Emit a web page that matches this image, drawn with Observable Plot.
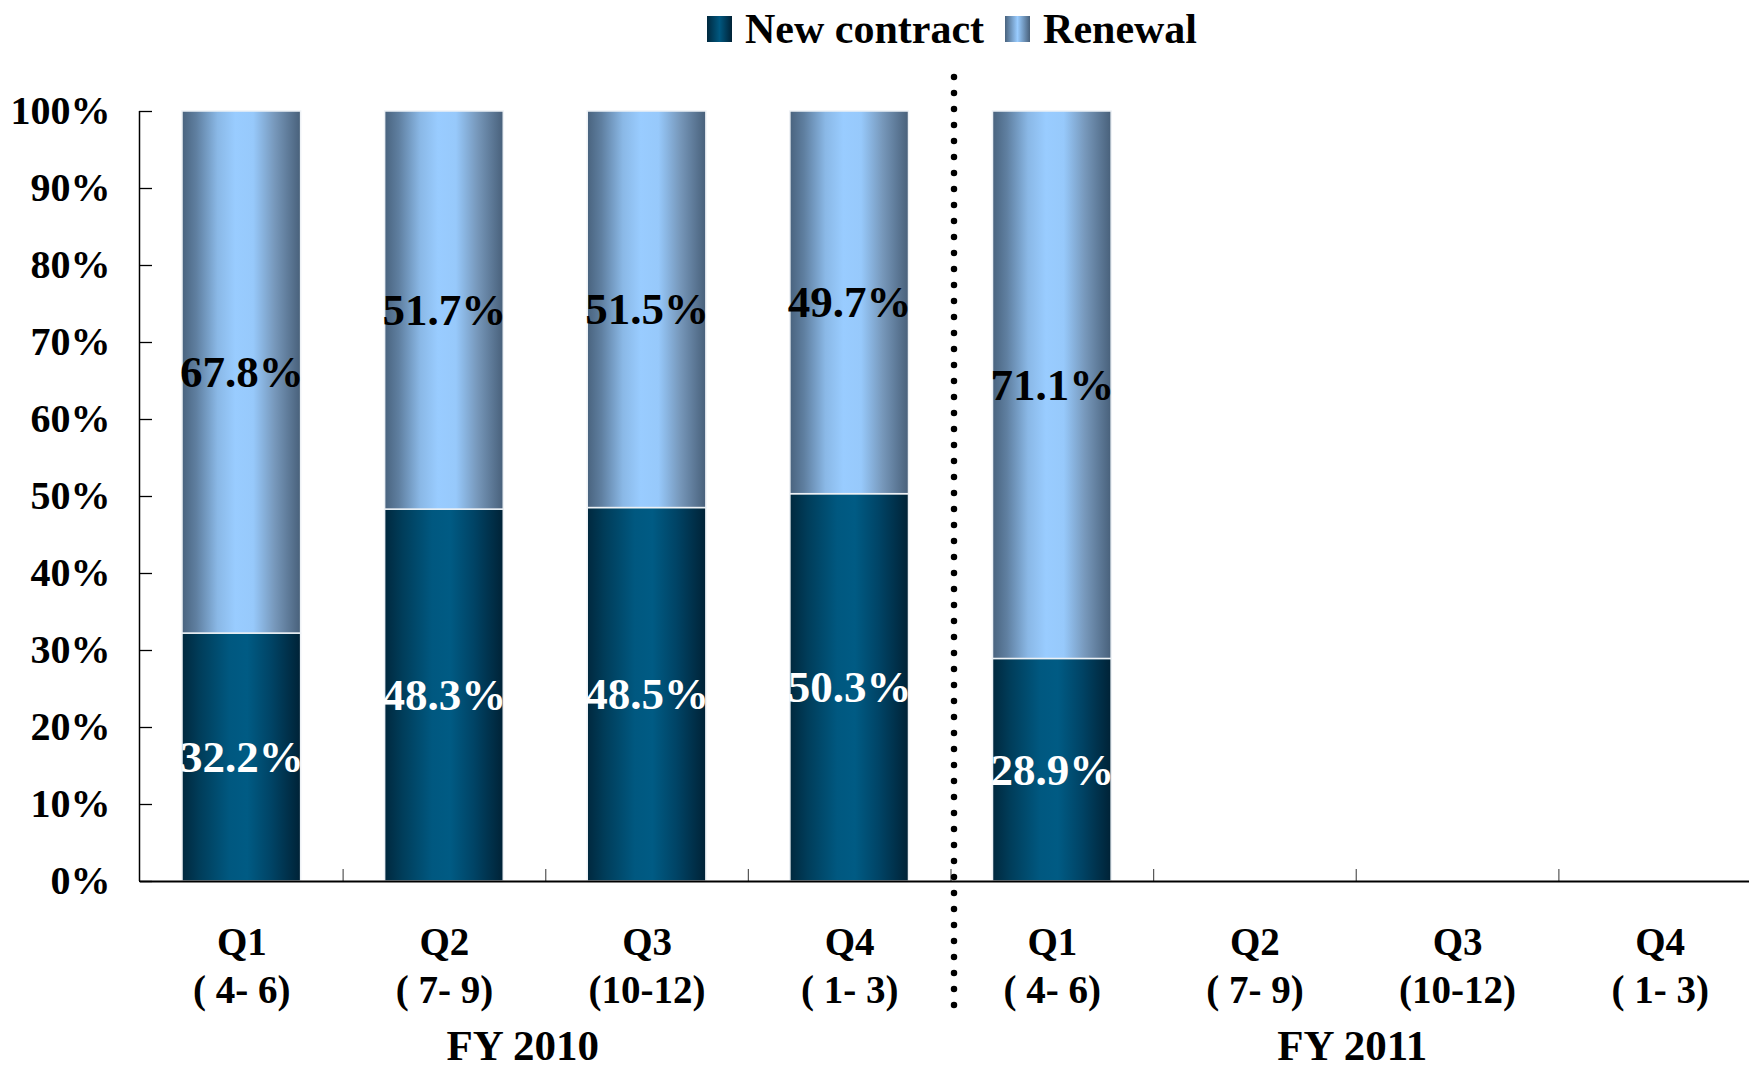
<!DOCTYPE html>
<html>
<head>
<meta charset="utf-8">
<script src="https://cdn.jsdelivr.net/npm/d3@7"></script>
<script src="https://cdn.jsdelivr.net/npm/@observablehq/plot@0.6"></script>
<style>
  html, body { margin: 0; padding: 0; background: #fff; }
  #wrap { position: relative; width: 1749px; height: 1067px; overflow: hidden; }
  #legend { position: absolute; top: 8px; left: 707px; display: flex; align-items: center;
    font-family: "Liberation Serif", "Times New Roman", serif; font-weight: bold; font-size: 42px; color: #000; line-height: 1; }
  .sw { width: 25px; height: 26px; display: inline-block; }
  .sw.new { background: linear-gradient(to right, #00283e, #005880 50%, #002236); margin-right: 13px; }
  .sw.ren { background: linear-gradient(to right, #49637e, #99ccff 50%, #48607a); margin-left: 21px; margin-right: 13px; }
  #chart { position: absolute; top: 0; left: 0; }
</style>
</head>
<body>
<div id="wrap">
  <div id="legend"><span class="sw new"></span><span>New contract</span><span class="sw ren"></span><span>Renewal</span></div>
  <div id="chart"></div>
</div>
<script>
// ---- data ----
const fiscalYears = ["FY 2010", "FY 2011"];
const quarters = ["Q1", "Q2", "Q3", "Q4"];
const monthRanges = ["( 4- 6)", "( 7- 9)", "(10-12)", "( 1- 3)"];
const seriesNames = ["New contract", "Renewal"];
const newContract = [32.2, 48.3, 48.5, 50.3, 28.9];
const renewal = [67.8, 51.7, 51.5, 49.7, 71.1];
const yTicks = [0, 10, 20, 30, 40, 50, 60, 70, 80, 90, 100];

// ---- derived tables ----
const categories = [];
const catLabel = new Map();
fiscalYears.forEach(fy => quarters.forEach((q, i) => {
  const key = fy + " " + q;
  categories.push(key);
  catLabel.set(key, q + "\n" + monthRanges[i]);
}));
const rows = [];
newContract.forEach((v, i) => rows.push({cat: categories[i], series: seriesNames[0], value: v}));
renewal.forEach((v, i) => rows.push({cat: categories[i], series: seriesNames[1], value: v}));

const gradId = {"New contract": "url(#gNew)", "Renewal": "url(#gRen)"};
const font = "Liberation Serif";

const W = 1749, H = 1067, mL = 140, mR = -12;
const step = (W - mL - mR) / categories.length;

const stackOpts = {x: "cat", y: "value", z: "series", order: seriesNames};

const chart = Plot.plot({
  width: W,
  height: H,
  marginLeft: mL,
  marginRight: mR,
  marginTop: 111,
  marginBottom: 186,
  style: {fontFamily: font, fontWeight: "bold", color: "#000", background: "transparent", overflow: "visible"},
  x: {type: "band", domain: categories, padding: 0, round: false},
  y: {domain: [0, 100]},
  color: {type: "identity"},
  marks: [
    Plot.barY(rows, Plot.stackY({
      ...stackOpts,
      fill: d => gradId[d.series],
      stroke: "#eef2f6",
      strokeWidth: 1.5,
      insetLeft: 42, insetRight: 42
    })),
    Plot.text(rows, Plot.stackY({
      ...stackOpts,
      text: d => d.series === "New contract" ? d.value.toFixed(1) + "%" : "",
      fill: "white", fontSize: 45, fontWeight: "bold"
    })),
    Plot.text(rows, Plot.stackY({
      ...stackOpts,
      text: d => d.series === "Renewal" ? d.value.toFixed(1) + "%" : "",
      fill: "black", fontSize: 45, fontWeight: "bold"
    })),
    // category boundary ticks
    Plot.ruleX(categories, {x: d => d, dx: step / 2, y1: 0, y2: 12 / 7.7, stroke: "#555", strokeWidth: 1.2}),
    // y axis line
    Plot.ruleX([categories[0]], {x: d => d, dx: -step / 2 - 1, y1: 0, y2: 100, stroke: "#000", strokeWidth: 1.5}),
    // inward y ticks
    Plot.tickY(yTicks, {y: d => d, x: () => categories[0], insetLeft: -1, insetRight: step - 12, stroke: "#000", strokeWidth: 1.3}),
    Plot.ruleY([0], {stroke: "#000", strokeWidth: 2}),
    Plot.axisY({ticks: yTicks, tickFormat: d => d + "%", tickSize: 0, tickPadding: 30, fontSize: 40, label: null}),
    Plot.axisX({tickSize: 0, tickPadding: 39, fontSize: 39, lineHeight: 1.23, tickFormat: d => catLabel.get(d), label: null}),
    // fiscal year labels
    Plot.text([fiscalYears[0]], {x: () => categories[1], text: d => d, frameAnchor: "bottom", dx: step / 2 - 23, dy: 178, fontSize: 43, fontWeight: "bold"}),
    Plot.text([fiscalYears[1]], {x: () => categories[5], text: d => d, frameAnchor: "bottom", dx: step / 2 - 4, dy: 178, fontSize: 43, fontWeight: "bold"}),
    // fiscal year separator
    Plot.ruleX([categories[3]], {x: d => d, dx: step / 2 + 3, y1: -16.1, y2: 104.7, stroke: "#000", strokeWidth: 6.5, strokeDasharray: "0 16", strokeLinecap: "round"})
  ]
});

// gradients
const ns = "http://www.w3.org/2000/svg";
const defs = document.createElementNS(ns, "defs");
function grad(id, stops) {
  const g = document.createElementNS(ns, "linearGradient");
  g.setAttribute("id", id);
  g.setAttribute("x1", "0"); g.setAttribute("x2", "1"); g.setAttribute("y1", "0"); g.setAttribute("y2", "0");
  stops.forEach(([o, c]) => {
    const s = document.createElementNS(ns, "stop");
    s.setAttribute("offset", o); s.setAttribute("stop-color", c);
    g.appendChild(s);
  });
  defs.appendChild(g);
}
grad("gRen", [[0, "#49637e"], [0.12, "#5f7fa0"], [0.3, "#8ab8e6"], [0.45, "#99ccff"], [0.6, "#97c9fb"], [0.78, "#7798bb"], [1, "#48607a"]]);
grad("gNew", [[0, "#00283e"], [0.15, "#003d5a"], [0.4, "#005880"], [0.55, "#005b84"], [0.75, "#004466"], [1, "#002236"]]);
chart.insertBefore(defs, chart.firstChild);

document.getElementById("chart").appendChild(chart);
</script>
</body>
</html>
